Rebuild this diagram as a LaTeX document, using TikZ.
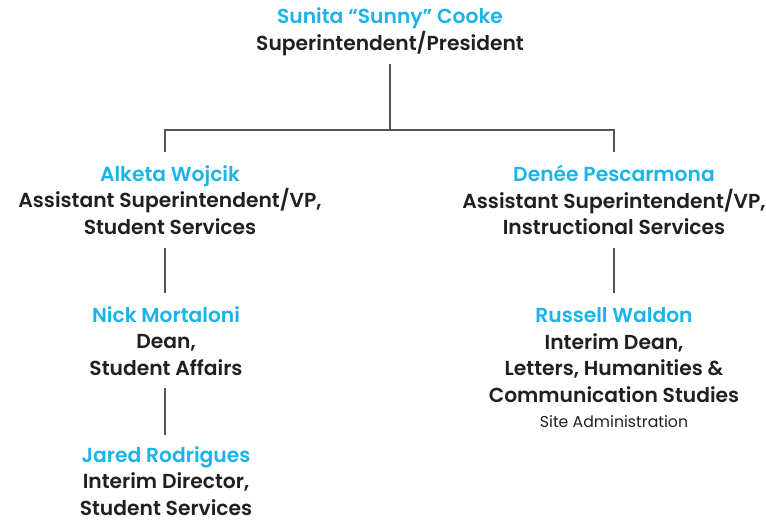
\documentclass[tikz,border=0pt]{standalone}
\usepackage{fontspec}
\setmainfont{Poppins SemiBold}
\newfontfamily\lightfont{Poppins}
\definecolor{namecol}{HTML}{1AB4E8}
\definecolor{txtcol}{HTML}{231F20}
\definecolor{linecol}{HTML}{555555}
\begin{document}
\begin{tikzpicture}[x=0.75pt,y=-0.75pt,
  person/.style={align=center,inner sep=0pt,text=txtcol,font=\fontsize{15.2}{19.9}\selectfont},
  small/.style={align=center,inner sep=0pt,text=txtcol,font=\lightfont\fontsize{11.8}{13}\selectfont},
  conn/.style={draw=linecol,line width=1.1pt}]
\useasboundingbox (0,0) rectangle (766,522);
\newcommand{\nm}[1]{\textcolor{namecol}{#1}}
\node[person] (top) at (390,31.5) {\nm{Sunita “Sunny” Cooke}\\Superintendent/President};
\node[person] (left1) at (170,200) {\nm{Alketa Wojcik}\\Assistant Superintendent/VP,\\Student Services};
\node[person] (right1) at (614,200) {\nm{Denée Pescarmona}\\Assistant Superintendent/VP,\\Instructional Services};
\node[person] (left2) at (166,341) {\nm{Nick Mortaloni}\\Dean,\\Student Affairs};
\node[person] (left3) at (166,481) {\nm{Jared Rodrigues}\\Interim Director,\\Student Services};
\node[person] (right2) at (614,355) {\nm{Russell Waldon}\\Interim Dean,\\Letters, Humanities \&\\Communication Studies};
\node[small,anchor=north] (site) at (614,415) {Site Administration};
\coordinate (bar) at (390,130);
\draw[conn] (390,64) -- (bar);
\draw[conn] (165,152) |- (bar) -| (614,152);
\draw[conn] (165,248) -- (165,293);
\draw[conn] (165,388) -- (165,435);
\draw[conn] (614,248) -- (614,293);
\end{tikzpicture}
\end{document}
